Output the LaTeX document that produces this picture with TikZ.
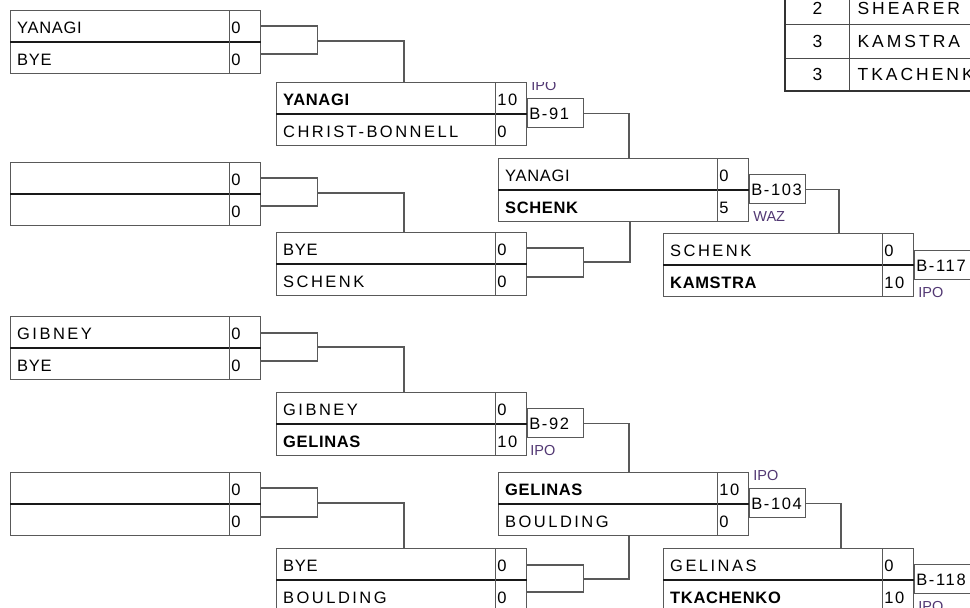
\documentclass[tikz,border=0pt]{standalone}
\usepackage{fontspec}
\setmainfont{Liberation Sans}
\newfontfamily\midfont[LetterSpace=4]{Liberation Sans}
\newfontfamily\widefont[LetterSpace=15]{Liberation Sans}
\newfontfamily\boutfont[LetterSpace=10]{Liberation Sans}
\newfontfamily\xwidefont[LetterSpace=17]{Liberation Sans}
\usetikzlibrary{calc}
\definecolor{lbl}{rgb}{0.32,0.22,0.45}
\tikzset{
  ln/.style={draw=black!65, line width=1.2pt},
  midln/.style={draw=black!90, line width=1.3pt},
  mbox/.style={draw=black!65, line width=1.2pt, minimum width=250pt, minimum height=63pt, inner sep=0pt, anchor=north west},
  nm/.style={anchor=west, inner sep=0pt, text height=12pt, text depth=0pt, font=\fontsize{16.5}{19}\selectfont\midfont},
  bb/.style={draw=black!65, line width=1.2pt, minimum width=56pt, minimum height=29pt, text width=53pt, inner xsep=1.5pt, inner ysep=0pt, align=left, text height=12pt, text depth=0pt, font=\fontsize{16.5}{19}\selectfont\boutfont, anchor=north west},
  res/.style={anchor=base west, inner sep=0pt, text=lbl, font=\fontsize{14.5}{16}\selectfont},
  tcell/.style={draw=black!70, line width=1.2pt, minimum height=33pt, inner sep=0pt, text height=12.5pt, text depth=0pt, font=\fontsize{17.5}{20}\selectfont\xwidefont, anchor=north west},
}
\newcommand{\matchbox}[7]{%
  \node[mbox] (#1) at (#2,#3) {};
  \draw[midln] (#1.west) -- (#1.east);
  \draw[ln] ($(#1.north east)+(-32,0)$) -- ($(#1.south east)+(-32,0)$);
  \node[nm] (#1t) at ($(#1.north west)+(7,17)$) {#4};
  \node[nm] (#1ts) at ($(#1.north east)+(-30,17)$) {\boutfont #5};
  \node[nm] (#1b) at ($(#1.north west)+(7,49)$) {#6};
  \node[nm] (#1bs) at ($(#1.north east)+(-30,49)$) {\boutfont #7};
}
\newcommand{\bbox}[4]{%
  \node[bb] (#1) at ($(#2.north east)+(0,#3)$) {#4};
}
\newcommand{\brk}[3]{%
  \draw[ln] ($(#1.north east)+(0,#2)$) -- ++(56,0) |- ($(#1.north east)+(0,#3)$);
}
\begin{document}
\begin{tikzpicture}[x=1pt,y=-1pt]
\useasboundingbox (0,0) rectangle (970,608);
\fill[white] (0,0) rectangle (970,608);
\clip (0,0) rectangle (970,608);

% first round
\matchbox{r1a}{10}{10}{YANAGI}{0}{BYE}{0}
\matchbox{r1b}{10}{162}{}{0}{}{0}
\matchbox{r1c}{10}{316}{\widefont GIBNEY}{0}{BYE}{0}
\matchbox{r1d}{10}{472}{}{0}{}{0}
% second round
\matchbox{r2a}{276}{82}{\bfseries YANAGI}{10}{\widefont CHRIST-BONNELL}{0}
\matchbox{r2b}{276}{232}{BYE}{0}{\widefont SCHENK}{0}
\matchbox{r2c}{276}{392}{\widefont GIBNEY}{0}{\bfseries GELINAS}{10}
\matchbox{r2d}{276}{548}{BYE}{0}{\widefont BOULDING}{0}
% third round
\matchbox{r3a}{498}{158}{YANAGI}{0}{\bfseries SCHENK}{5}
\matchbox{r3b}{498}{472}{\bfseries GELINAS}{10}{\widefont BOULDING}{0}
% fourth round
\matchbox{r4a}{663}{233}{\widefont SCHENK}{0}{\bfseries KAMSTRA}{10}
\matchbox{r4b}{663}{548}{\widefont GELINAS}{0}{\bfseries TKACHENKO}{10}

% brackets
\brk{r1a}{16}{44}
\brk{r1b}{16}{44}
\brk{r1c}{17}{45}
\brk{r1d}{16}{45}
\brk{r2b}{16}{45}
\brk{r2d}{17}{44}

% connectors round 1 -> 2
\draw[ln] ($(r1a.north east)+(56,31)$) -| ($(r2a.north west)+(128,0)$);
\draw[ln] ($(r1b.north east)+(56,31)$) -| ($(r2b.north west)+(128,0)$);
\draw[ln] ($(r1c.north east)+(56,31)$) -| ($(r2c.north west)+(128,0)$);
\draw[ln] ($(r1d.north east)+(56,31)$) -| ($(r2d.north west)+(128,0)$);
% round 2 -> 3
\draw[ln] ($(r2b.north east)+(56,30)$) -| ($(r3a.south west)+(132,0)$);
\draw[ln] ($(r2d.north east)+(56,31)$) -| ($(r3b.south west)+(131,0)$);

% bout boxes
\bbox{b91}{r2a}{16}{B-91}
\bbox{b92}{r2c}{16}{B-92}
\bbox{b103}{r3a}{16}{B-103}
\bbox{b104}{r3b}{16}{B-104}
\bbox{b117}{r4a}{17}{B-117}
\bbox{b118}{r4b}{16}{B-118}

\draw[ln] (b91.east) -| ($(r3a.north west)+(131,0)$);
\draw[ln] (b92.east) -| ($(r3b.north west)+(131,0)$);
\draw[ln] (b103.east) -| ($(r4a.north west)+(176,0)$);
\draw[ln] (b104.east) -| ($(r4b.north west)+(178,0)$);

% result labels
\begin{scope}
  \clip (526,82) rectangle (600,98);
  \node[res] (l91) at ($(b91.north west)+(4,-8)$) {IPO};
\end{scope}
\node[res] (l92) at ($(b92.south west)+(3,17)$) {IPO};
\node[res] (l103) at ($(b103.south west)+(4,17)$) {WAZ};
\node[res] (l104) at ($(b104.north west)+(4,-8)$) {IPO};
\node[res] (l117) at ($(b117.south west)+(4,17)$) {IPO};
\node[res] (l118) at ($(b118.south west)+(4,17)$) {IPO};

% ranking table
\node[tcell, minimum width=64pt, minimum height=32pt] (tn1) at (785,-8) {2};
\node[tcell, minimum width=64pt, minimum height=34pt] (tn2) at (785,24) {3};
\node[tcell, minimum width=64pt, minimum height=32pt] (tn3) at (785,58) {3};
\node[tcell, minimum height=32pt, text width=150pt, inner xsep=8pt, align=left] (ts1) at (849,-8) {SHEARER};
\node[tcell, minimum height=34pt, text width=150pt, inner xsep=8pt, align=left] (ts2) at (849,24) {KAMSTRA};
\node[tcell, minimum height=32pt, text width=150pt, inner xsep=8pt, align=left] (ts3) at (849,58) {TKACHENKO};
\draw[draw=black!80, line width=2.4pt] (tn1.north west) -- (tn3.south west) -- (ts3.south east);
\end{tikzpicture}
\end{document}
